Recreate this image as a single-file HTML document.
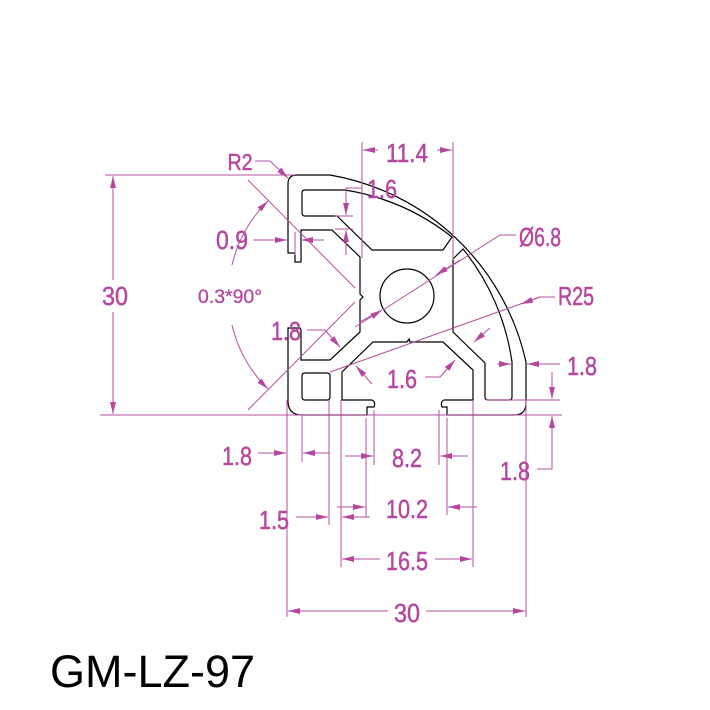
<!DOCTYPE html>
<html><head><meta charset="utf-8"><style>
html,body{margin:0;padding:0;background:#fff;}
svg{display:block;}
.d{stroke:#b5509d;stroke-width:1;fill:none;}
.p{stroke:#000;stroke-width:1.2;fill:none;}
.t{font-family:"Liberation Sans",sans-serif;font-size:26px;fill:#b5479f;stroke:#b5479f;stroke-width:0.5;}
</style></head><body>
<svg width="710" height="710" viewBox="0 0 710 710" xmlns="http://www.w3.org/2000/svg">
<defs>
<marker id="ar" viewBox="0 0 12 6" refX="12" refY="3" markerWidth="12" markerHeight="6" orient="auto" markerUnits="userSpaceOnUse">
<path d="M0,0 L12,3 L0,6 z" fill="#b5479f"/></marker>
</defs>

<path class="p" d="M288,184 Q288,175 297,175 L330,175 A243,243 0 0 1 526,362 L526,403 Q526,415 514,415 L447,415 L447,407 L442,407 Q440,402 444,400 L473,400 L473,370 L443,342 L410,342 L409,339 L407,342 L373,342 L342,372 L342,400 L372,400 Q376,402 374,407 L367,407 L367,415 L302,415 Q288,415 288,401 L288,328 L300,328 L301,330 L301,360 L330,360 L360,332 L360,300 L363,297 L360,294 L360,257 L332,230 L301,230 L301,262 L295,262 L295,253 L288,253 Z"/>
<path class="p" d="M305,190 L345,190 A232,232 0 0 1 452,237 L443,250 L372,250 L337,216 L305,216 Q302,216 302,213 L302,193 Q302,190 305,190 Z"/>
<path class="p" d="M453,259 L463,249 A232,232 0 0 1 512,362 L512,397 Q512,400 509,400 L488,400 Q485,400 485,397 L485,363 L453,332 Z"/>
<path class="p" d="M305,373 L327,373 Q330,373 330,376 L330,397 Q330,400 327,400 L305,400 Q302,400 302,397 L302,376 Q302,373 305,373 Z"/>
<circle class="p" cx="407" cy="296" r="27"/>

<line class="d" x1="105" y1="175" x2="295" y2="175"/>
<line class="d" x1="100" y1="415" x2="562" y2="415"/>
<line class="d" x1="113" y1="280" x2="113" y2="176" marker-end="url(#ar)"/>
<line class="d" x1="113" y1="312" x2="113" y2="414" marker-end="url(#ar)"/>
<text class="t" x="115" y="305" text-anchor="middle" textLength="26" lengthAdjust="spacingAndGlyphs">30</text>

<text class="t" x="240" y="170" text-anchor="middle" textLength="25" lengthAdjust="spacingAndGlyphs" style="font-size:23px">R2</text>
<polyline class="d" points="255,161 270,161 288,178" marker-end="url(#ar)"/>

<text class="t" x="232" y="249" text-anchor="middle" textLength="32" lengthAdjust="spacingAndGlyphs">0.9</text>
<line class="d" x1="253" y1="240" x2="287" y2="240" marker-end="url(#ar)"/>
<line class="d" x1="324" y1="240" x2="301" y2="240" marker-end="url(#ar)"/>
<line class="d" x1="295" y1="232" x2="295" y2="255"/>

<line class="d" x1="248" y1="180" x2="355" y2="288"/>
<line class="d" x1="355" y1="302" x2="248" y2="410"/>
<path class="d" d="M232,265 A133,133 0 0 1 268,201" marker-end="url(#ar)"/>
<path class="d" d="M232,325 A133,133 0 0 0 268,389" marker-end="url(#ar)"/>
<text class="t" x="230" y="303" text-anchor="middle" textLength="64" lengthAdjust="spacingAndGlyphs" style="font-size:19px;stroke-width:0.3">0.3*90°</text>

<text class="t" x="286" y="340" text-anchor="middle" textLength="30" lengthAdjust="spacingAndGlyphs">1.8</text>
<polyline class="d" points="307,330 325,330 340,347" marker-end="url(#ar)"/>
<line class="d" x1="372" y1="384" x2="356" y2="366" marker-end="url(#ar)"/>

<line class="d" x1="362" y1="142" x2="362" y2="258"/>
<line class="d" x1="453" y1="142" x2="453" y2="260"/>
<line class="d" x1="378" y1="150" x2="363" y2="150" marker-end="url(#ar)"/>
<line class="d" x1="437" y1="150" x2="452" y2="150" marker-end="url(#ar)"/>
<text class="t" x="407" y="162" text-anchor="middle" textLength="42" lengthAdjust="spacingAndGlyphs">11.4</text>

<text class="t" x="382" y="198" text-anchor="middle" textLength="30" lengthAdjust="spacingAndGlyphs">1.6</text>
<polyline class="d" points="362,188 346,188 346,215" marker-end="url(#ar)"/>
<line class="d" x1="346" y1="255" x2="346" y2="230" marker-end="url(#ar)"/>
<line class="d" x1="335" y1="216" x2="353" y2="216"/>
<line class="d" x1="335" y1="229" x2="353" y2="229"/>

<line class="d" x1="360" y1="322" x2="380" y2="311"/>
<line class="d" x1="383" y1="310" x2="500" y2="235"/>
<line class="d" x1="500" y1="235" x2="516" y2="235"/>
<line class="d" x1="460" y1="260" x2="436" y2="275" marker-end="url(#ar)"/>
<line class="d" x1="355" y1="327" x2="382" y2="310" marker-end="url(#ar)"/>
<text class="t" x="540" y="246" text-anchor="middle" textLength="42" lengthAdjust="spacingAndGlyphs">Ø6.8</text>

<polyline class="d" points="555,297 540,297 330,372"/>
<line class="d" x1="540" y1="297" x2="521" y2="304" marker-end="url(#ar)"/>
<text class="t" x="576" y="305" text-anchor="middle" textLength="36" lengthAdjust="spacingAndGlyphs">R25</text>

<text class="t" x="402" y="388" text-anchor="middle" textLength="30" lengthAdjust="spacingAndGlyphs">1.6</text>
<polyline class="d" points="425,377 440,377 455,360" marker-end="url(#ar)"/>
<line class="d" x1="490" y1="328" x2="474" y2="342" marker-end="url(#ar)"/>

<line class="d" x1="497" y1="364" x2="511" y2="364" marker-end="url(#ar)"/>
<line class="d" x1="560" y1="364" x2="527" y2="364" marker-end="url(#ar)"/>
<text class="t" x="582" y="375" text-anchor="middle" textLength="30" lengthAdjust="spacingAndGlyphs">1.8</text>
<line class="d" x1="486" y1="400" x2="560" y2="400"/>
<line class="d" x1="552" y1="372" x2="552" y2="399" marker-end="url(#ar)"/>
<polyline class="d" points="537,469 552,469 552,416" marker-end="url(#ar)"/>
<text class="t" x="515" y="480" text-anchor="middle" textLength="30" lengthAdjust="spacingAndGlyphs">1.8</text>

<line class="d" x1="287" y1="400" x2="287" y2="617"/>
<line class="d" x1="302" y1="415" x2="302" y2="462"/>
<line class="d" x1="329" y1="400" x2="329" y2="525"/>
<line class="d" x1="341" y1="400" x2="341" y2="567"/>
<line class="d" x1="366" y1="418" x2="366" y2="517"/>
<line class="d" x1="374" y1="410" x2="374" y2="465"/>
<line class="d" x1="439" y1="410" x2="439" y2="465"/>
<line class="d" x1="447" y1="418" x2="447" y2="515"/>
<line class="d" x1="473" y1="400" x2="473" y2="567"/>
<line class="d" x1="526" y1="400" x2="526" y2="617"/>

<text class="t" x="237" y="465" text-anchor="middle" textLength="30" lengthAdjust="spacingAndGlyphs">1.8</text>
<line class="d" x1="258" y1="453" x2="286" y2="453" marker-end="url(#ar)"/>
<line class="d" x1="330" y1="453" x2="303" y2="453" marker-end="url(#ar)"/>

<line class="d" x1="345" y1="456" x2="373" y2="456" marker-end="url(#ar)"/>
<line class="d" x1="468" y1="456" x2="440" y2="456" marker-end="url(#ar)"/>
<text class="t" x="407" y="467" text-anchor="middle" textLength="30" lengthAdjust="spacingAndGlyphs">8.2</text>

<line class="d" x1="337" y1="507" x2="365" y2="507" marker-end="url(#ar)"/>
<line class="d" x1="477" y1="507" x2="448" y2="507" marker-end="url(#ar)"/>
<text class="t" x="407" y="518" text-anchor="middle" textLength="42" lengthAdjust="spacingAndGlyphs">10.2</text>

<text class="t" x="274" y="529" text-anchor="middle" textLength="30" lengthAdjust="spacingAndGlyphs">1.5</text>
<line class="d" x1="296" y1="517" x2="328" y2="517" marker-end="url(#ar)"/>
<line class="d" x1="370" y1="517" x2="342" y2="517" marker-end="url(#ar)"/>

<line class="d" x1="380" y1="559" x2="342" y2="559" marker-end="url(#ar)"/>
<line class="d" x1="435" y1="559" x2="472" y2="559" marker-end="url(#ar)"/>
<text class="t" x="407" y="570" text-anchor="middle" textLength="42" lengthAdjust="spacingAndGlyphs">16.5</text>

<line class="d" x1="388" y1="611" x2="288" y2="611" marker-end="url(#ar)"/>
<line class="d" x1="426" y1="611" x2="525" y2="611" marker-end="url(#ar)"/>
<text class="t" x="407" y="622" text-anchor="middle" textLength="26" lengthAdjust="spacingAndGlyphs">30</text>

<text x="50" y="687" style="font-family:'Liberation Sans',sans-serif;font-size:45px;fill:#000" textLength="205" lengthAdjust="spacingAndGlyphs">GM-LZ-97</text>
</svg>
</body></html>
